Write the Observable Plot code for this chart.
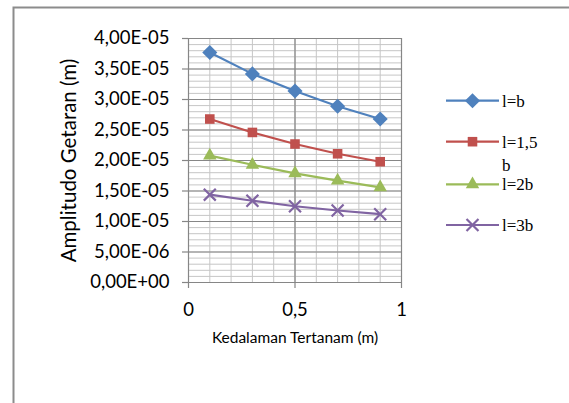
<!DOCTYPE html>
<html>
<head>
<meta charset="utf-8">
<script src="https://cdn.jsdelivr.net/npm/d3@7"></script>
<script src="https://cdn.jsdelivr.net/npm/@observablehq/plot@0.6"></script>
<style>
  html, body { margin: 0; padding: 0; background: #fff; }
  #chart svg { display: block; }
</style>
</head>
<body>
<div id="chart"></div>
<script>
// Embedment depth (m) at which the vibration amplitude was computed
const depths = [0.1, 0.3, 0.5, 0.7, 0.9];

// Vibration amplitude (m) for each foundation length
const seriesNames = ["l=b", "l=1,5 b", "l=2b", "l=3b"];
const ampLb   = [3.77e-5, 3.42e-5, 3.14e-5, 2.89e-5, 2.68e-5];
const ampL15b = [2.68e-5, 2.46e-5, 2.27e-5, 2.11e-5, 1.98e-5];
const ampL2b  = [2.08e-5, 1.93e-5, 1.79e-5, 1.67e-5, 1.56e-5];
const ampL3b  = [1.44e-5, 1.34e-5, 1.25e-5, 1.18e-5, 1.12e-5];

// Axis ticks and their labels
const yTicks = [0, 5e-6, 1e-5, 1.5e-5, 2e-5, 2.5e-5, 3e-5, 3.5e-5, 4e-5];
const yTickLabels = ["0,00E+00", "5,00E-06", "1,00E-05", "1,50E-05", "2,00E-05",
                     "2,50E-05", "3,00E-05", "3,50E-05", "4,00E-05"];
const xTicks = [0, 0.5, 1];
const xTickLabels = ["0", "0,5", "1"];

const yLabelOf = new Map(yTicks.map((t, i) => [t, yTickLabels[i]]));
const xLabelOf = new Map(xTicks.map((t, i) => [t, xTickLabels[i]]));

const seriesStyle = [
  {color: "#4F81BD", symbol: "diamond2", r: 6.8, filled: true},
  {color: "#C0504D", symbol: "square",   r: 5.4, filled: true},
  {color: "#9BBB59", symbol: "triangle", r: 5.0, filled: true},
  {color: "#8064A2", symbol: "times",    r: 5.5, filled: false}
];
const seriesValues = [ampLb, ampL15b, ampL2b, ampL3b];

const rows = seriesValues.map((vals, s) =>
  depths.map((x, i) => ({series: seriesNames[s], x, y: vals[i]})));

// Minor grid positions: every 0.1 m horizontally, every 1E-06 m vertically
const xMinor = d3.range(0, 11).map(i => i / 10);
const yMinor = d3.range(0, 41).map(i => i * 1e-6);

const seriesMarks = rows.flatMap((data, s) => {
  const st = seriesStyle[s];
  return [
    Plot.line(data, {x: "x", y: "y", stroke: st.color, strokeWidth: 2.2}),
    Plot.dot(data, st.filled
      ? {x: "x", y: "y", symbol: () => st.symbol, r: st.r, fill: st.color, stroke: "none"}
      : {x: "x", y: "y", symbol: () => st.symbol, r: st.r, stroke: st.color, strokeWidth: 2.2, fill: "none"})
  ];
});

const chart = Plot.plot({
  width: 569,
  height: 403,
  marginLeft: 188,
  marginRight: 168,
  marginTop: 38,
  marginBottom: 121,
  style: {fontFamily: "Lato", fontSize: "18.5px", color: "#000", background: "#fff"},
  x: {domain: [0, 1]},
  y: {domain: [0, 4e-5]},
  marks: [
    Plot.ruleX(xMinor, {stroke: "#c6c6c6", strokeWidth: 1}),
    Plot.ruleY(yMinor, {stroke: "#c6c6c6", strokeWidth: 1}),
    Plot.ruleX(xTicks, {stroke: "#868686", strokeWidth: 1.2}),
    Plot.ruleY(yTicks, {stroke: "#868686", strokeWidth: 1.2}),
    Plot.axisY(yTicks, {tickSize: 6, tickPadding: 13, stroke: "#868686", strokeWidth: 1.2,
                        tickFormat: d => yLabelOf.get(d), label: null}),
    Plot.axisX(xTicks, {tickSize: 6, tickPadding: 14, stroke: "#868686", strokeWidth: 1.2,
                        tickFormat: d => xLabelOf.get(d), label: null}),
    Plot.text(["Amplitudo Getaran (m)"], {frameAnchor: "left", dx: -119, rotate: -90,
                                          text: d => d, textAnchor: "middle",
                                          lineAnchor: "middle", fontSize: 20.5}),
    Plot.text(["Kedalaman Tertanam (m)"], {frameAnchor: "bottom", dy: 56,
                                           text: d => d, textAnchor: "middle",
                                           lineAnchor: "middle", fontSize: 15.5}),
    ...seriesMarks
  ]
});

document.getElementById("chart").appendChild(chart);

// Chart-area border and legend
const svg = d3.select(chart);
svg.append("path")
  .attr("d", "M13.5,403 L13.5,7.5 L569,7.5")
  .attr("fill", "none")
  .attr("stroke", "#8c8c8c")
  .attr("stroke-width", 2);

const legendRows = [100.7, 141.7, 184.3, 225];
const legend = svg.append("g")
  .attr("font-family", "'Liberation Serif', 'Times New Roman', serif")
  .attr("font-size", 17)
  .attr("text-anchor", "start");
seriesNames.forEach((name, s) => {
  const st = seriesStyle[s];
  const y = legendRows[s];
  const g = legend.append("g");
  g.append("line").attr("x1", 446).attr("x2", 499).attr("y1", y).attr("y2", y)
    .attr("stroke", st.color).attr("stroke-width", 2.2);
  const sym = {diamond2: d3.symbolDiamond2, square: d3.symbolSquare,
               triangle: d3.symbolTriangle, times: d3.symbolTimes}[st.symbol];
  g.append("path")
    .attr("transform", `translate(472.5,${y})`)
    .attr("d", d3.symbol(sym, Math.PI * st.r * st.r)())
    .attr("fill", st.filled ? st.color : "none")
    .attr("stroke", st.filled ? "none" : st.color)
    .attr("stroke-width", 2.2);
  // the second label wraps onto two lines
  const parts = name === "l=1,5 b" ? ["l=1,5", "b"] : [name];
  parts.forEach((p, k) => {
    g.append("text").attr("x", 502).attr("y", y + k * 23.5)
      .attr("dy", "0.35em").text(p);
  });
});
</script>
</body>
</html>
